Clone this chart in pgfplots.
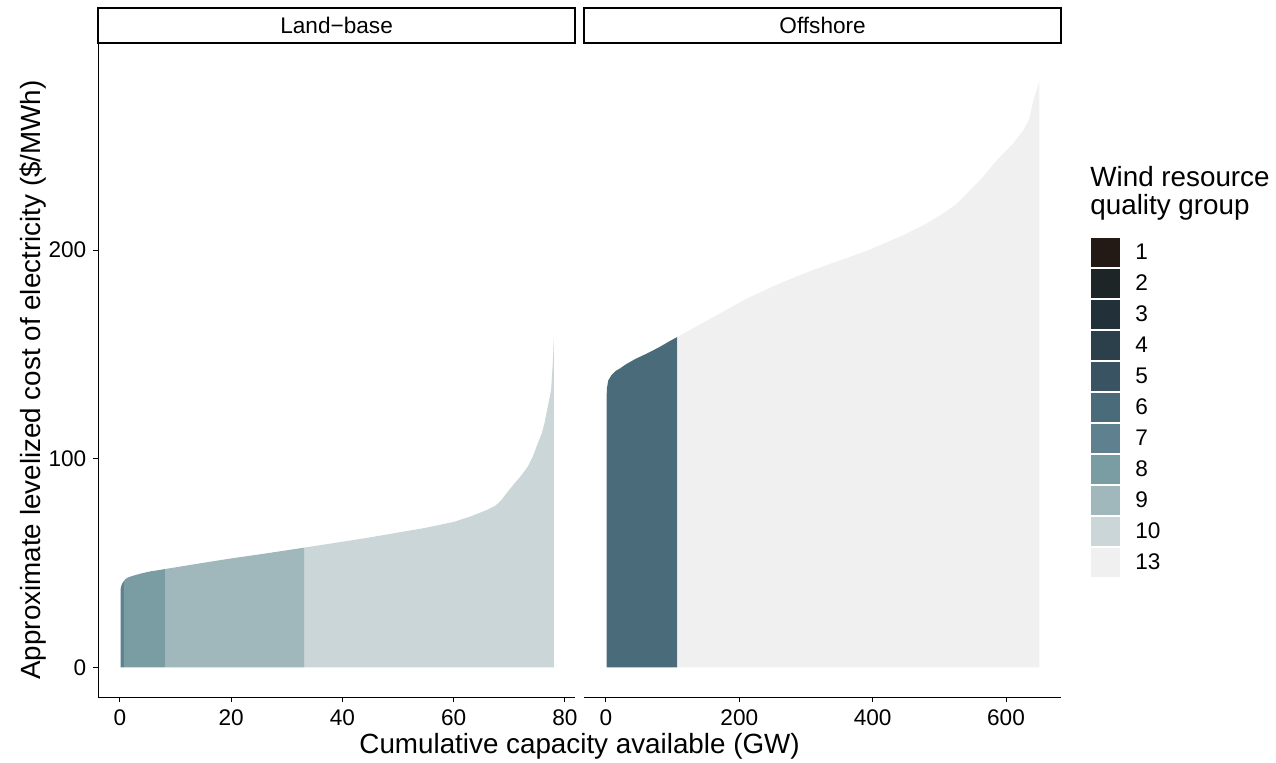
\documentclass[border=0pt]{standalone}
\usepackage{fontspec}
\setmainfont{Liberation Sans}
\usepackage{pgfplots}
\pgfplotsset{compat=1.18}
\definecolor{c1}{HTML}{231A15}
\definecolor{c2}{HTML}{1E2526}
\definecolor{c3}{HTML}{213039}
\definecolor{c4}{HTML}{2C404C}
\definecolor{c5}{HTML}{3A5362}
\definecolor{c6}{HTML}{4A6B7A}
\definecolor{c7}{HTML}{5F808E}
\definecolor{c8}{HTML}{799DA2}
\definecolor{c9}{HTML}{A0B7BB}
\definecolor{c10}{HTML}{CAD6D8}
\definecolor{c13}{HTML}{F0F0F0}
\pgfplotsset{panel/.style={scale only axis, width=238.35pt, height=326.65pt,
  ymin=-14.4, ymax=298.9, anchor=south west,
  tick align=outside, major tick length=2.5pt,
  tick style={black, line width=0.5pt},
  axis line style={black, line width=0.6pt},
  ticklabel style={font=\fontsize{11.3}{13}\selectfont, color=black},
  /pgf/number format/assume math mode=true}}
\begin{document}
\begin{tikzpicture}
\useasboundingbox (0,0) rectangle (638pt,381.5pt);
% Land-base panel
\begin{axis}[panel, at={(49.15pt,32.85pt)},
  xmin=-3.9, xmax=81.8, xtick={0,20,40,60,80}, ytick={0,100,200},
  axis x line*=bottom, axis y line*=left]
\addplot[fill=c7, draw=none] coordinates {(0.1,0) (0.1,37.5) (0.3,39.5) (0.5,40.6) (0.7,41.3) (0.7,0)};
\addplot[fill=c8, draw=none] coordinates {(0.7,0) (0.7,41.3) (1.0,42.3) (1.4,43.0) (2,43.6) (3,44.4) (4,45.1) (5.5,46.0) (7,46.6) (8.1,47.1) (8.1,0)};
\addplot[fill=c9, draw=none] coordinates {(8.1,0) (8.1,47.1) (15,50.1) (20,52.2) (25,54.1) (30,56.1) (33.2,57.4) (33.2,0)};
\addplot[fill=c10, draw=none] coordinates {(33.2,0) (33.2,57.4) (40,60.2) (45,62.3) (50,64.6) (55,66.9) (60,69.7) (63,72.3) (66,75.5) (67.5,77.5) (68.5,80) (69.5,83.5) (70.9,88.1) (72,91.5) (73.3,96.1) (74.2,101) (75.1,107.3) (75.8,112) (76.3,116.9) (76.9,124.8) (77.5,132.9) (77.8,145.6) (78.0,157.6) (78.0,0)};
\end{axis}
% Offshore panel
\begin{axis}[panel, at={(292.15pt,32.85pt)},
  xmin=-32.5, xmax=682.5, xtick={0,200,400,600}, ytick=\empty,
  axis x line*=bottom, axis y line=none]
\addplot[fill=c6, draw=none] coordinates {(1,0) (1,130) (1.5,134) (3.5,137.6) (8,140) (15,142.2) (21,143.3) (30,145.3) (45,148) (61,150.4) (80,153.5) (95,156.3) (107,158.4) (107,0)};
\addplot[fill=c13, draw=none] coordinates {(107,0) (107,158.4) (150,166) (211,176.8) (260,184) (311,190.6) (350,195) (391,199.7) (446,207.2) (481,212.8) (505,217.5) (525,222) (541,227.1) (565,235) (586,243.1) (610,251) (626,257.5) (635,263) (641,271.9) (647,278) (650,280.8) (650,0)};
\end{axis}
% strips
\draw[line width=1pt, fill=white] (49.15pt,377.35pt) rectangle (287.5pt,359.85pt);
\node[font=\fontsize{11.3}{13}\selectfont] at (168.3pt,368.6pt) {Land−base};
\draw[line width=1pt, fill=white] (292.15pt,377.35pt) rectangle (530.5pt,359.85pt);
\node[font=\fontsize{11.3}{13}\selectfont] at (411.3pt,368.6pt) {Offshore};
% axis titles
\node[font=\fontsize{13.9}{16}\selectfont] at (289.8pt,8.5pt) {Cumulative capacity available (GW)};
\node[font=\fontsize{13.9}{16}\selectfont, rotate=90] at (16.5pt,191.5pt) {Approximate levelized cost of electricity (\$/MWh)};
% legend
\node[font=\fontsize{13.9}{16}\selectfont, anchor=base west, inner sep=0pt] at (545pt,288pt) {Wind resource};
\node[font=\fontsize{13.9}{16}\selectfont, anchor=base west, inner sep=0pt] at (545pt,274pt) {quality group};
\foreach \c/\l [count=\i from 0] in {c1/1,c2/2,c3/3,c4/4,c5/5,c6/6,c7/7,c8/8,c9/9,c10/10,c13/13}{
  \fill[\c] (545.5pt,{(763-237.7-31*\i)*0.5pt}) rectangle (560pt,{(763-266.7-31*\i)*0.5pt});
  \node[font=\fontsize{11.3}{13}\selectfont, anchor=base west, inner sep=0pt] at (567.5pt,{(763-260-31*\i)*0.5pt}) {\l};
}
\end{tikzpicture}
\end{document}
